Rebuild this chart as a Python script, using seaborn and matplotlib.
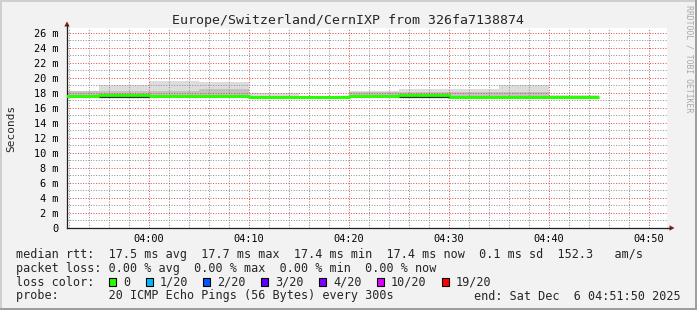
import numpy as np
import pandas as pd
import matplotlib
matplotlib.use("Agg")
import matplotlib.pyplot as plt
import matplotlib.dates as mdates
from matplotlib.ticker import MultipleLocator, FuncFormatter
from matplotlib.patches import Rectangle, Polygon
from matplotlib.lines import Line2D
import seaborn as sns

# ---------------- data ----------------
day = "2025-12-06 "
bin_start = ["03:50", "03:55", "04:00", "04:05", "04:10", "04:15",
             "04:20", "04:25", "04:30", "04:35", "04:40"]
bin_last_end = "04:45"
median_ms = [17.55, 17.65, 17.6, 17.6, 17.42, 17.42, 17.6, 17.63, 17.42, 17.42, 17.42]
smoke_mid_ms = [18.2, 18.2, 18.25, 18.55, 17.6, 17.42, 18.1, 18.1, 18.05, 18.05, 17.6]
smoke_max_ms = [18.2, 19.0, 19.55, 19.45, 18.0, 17.42, 18.2, 18.5, 18.55, 19.0, 17.75]
dense_ms = [np.nan, 17.42, np.nan, np.nan, np.nan, np.nan, np.nan, 17.42, np.nan, np.nan, np.nan]

view_start = "03:51:50"
view_end = "04:51:50"

title = "Europe/Switzerland/CernIXP from 326fa7138874"
legend_rtt = "median rtt:  17.5 ms avg  17.7 ms max  17.4 ms min  17.4 ms now  0.1 ms sd  152.3   am/s"
legend_loss = "packet loss: 0.00 % avg  0.00 % max  0.00 % min  0.00 % now"
loss_labels = ["0", "1/20", "2/20", "3/20", "4/20", "10/20", "19/20"]
loss_colors = ["#26ff00", "#00b8ff", "#0059ff", "#5e00ff", "#7e00ff", "#dd00ff", "#ff0000"]
probe_text = "probe:       20 ICMP Echo Pings (56 Bytes) every 300s"
end_text = "end: Sat Dec  6 04:51:50 2025"

# ---------------- style ----------------
sns.set_style("white")
plt.rcParams["font.family"] = ["DejaVu Sans Mono"]

W, H = 697, 310
fig = plt.figure(figsize=(W / 100, H / 100), dpi=100)
fig.patch.set_facecolor("#f2f2f2")

L, R, T, B = 67, 667, 28, 228
ax = fig.add_axes([L / W, 1 - B / H, (R - L) / W, (B - T) / H])
ax.set_facecolor("white")

def px2fig(x, y):
    return x / W, 1 - y / H

t_start = mdates.date2num(pd.to_datetime([day + s for s in bin_start]))
t_end = np.append(t_start[1:], mdates.date2num(pd.Timestamp(day + bin_last_end)))
width = t_end - t_start

med = np.array(median_ms)
mid = np.array(smoke_mid_ms)
mx = np.array(smoke_max_ms)
dense = np.array(dense_ms)

# smoke
ax.bar(t_start, mx - med, bottom=med, width=width, align="edge",
       color="#dcdcdc", linewidth=0, zorder=1)
ax.bar(t_start, mid - med, bottom=med, width=width, align="edge",
       color="#c2c2c2", linewidth=0, zorder=1.1)

# median line (loss colour)
df = pd.DataFrame({"time": np.append(t_start, t_end[-1]),
                   "median": np.append(med, med[-1])})
sns.lineplot(data=df, x="time", y="median", ax=ax, drawstyle="steps-post",
             color=loss_colors[0], linewidth=2.2, solid_capstyle="butt", zorder=3)

m = ~np.isnan(dense)
ax.hlines(dense[m], t_start[m], t_end[m], color="#333333", linewidth=0.9, zorder=3.5)

# axes
ax.set_xlim(mdates.date2num(pd.Timestamp(day + view_start)),
            mdates.date2num(pd.Timestamp(day + view_end)))
ax.set_ylim(0, 26.6)
ax.set_xlabel("")
ax.set_ylabel("")

ax.xaxis.set_major_locator(mdates.MinuteLocator(byminute=range(0, 60, 10)))
ax.xaxis.set_minor_locator(mdates.MinuteLocator(byminute=range(0, 60, 2)))
ax.xaxis.set_major_formatter(mdates.DateFormatter("%H:%M"))
ax.yaxis.set_major_locator(MultipleLocator(2))
ax.yaxis.set_minor_locator(MultipleLocator(1))
ax.yaxis.set_major_formatter(FuncFormatter(lambda v, p: "0" if v == 0 else f"{int(round(v))} m"))

ax.set_axisbelow("line")
ax.grid(True, which="minor", color=(0.56, 0.56, 0.56, 0.32), linestyle=(0, (1, 1.6)), linewidth=0.72)
ax.grid(True, which="major", color=(0.87, 0.31, 0.31, 0.32), linestyle=(0, (1, 1.6)), linewidth=0.72)

ax.tick_params(which="major", length=3, width=0.72, color="#aaaaaa", labelsize=7.4,
               labelcolor="black")
ax.tick_params(axis="y", which="major", pad=3)
ax.tick_params(axis="x", which="major", pad=1.5)
ax.tick_params(which="minor", length=0)

for s in ["top", "right"]:
    ax.spines[s].set_visible(False)
for s in ["left", "bottom"]:
    ax.spines[s].set_color("#1f1f1f")
    ax.spines[s].set_linewidth(0.9)

# arrows
arrow_col = "#801f1f"
x0, y0 = px2fig(L, T)
x1, y1 = px2fig(L, T - 3)
fig.add_artist(Line2D([x0, x1], [y0, y1], color="#1f1f1f", lw=0.9))
fig.add_artist(Polygon([px2fig(L, 21.5), px2fig(L - 2.7, 26.5), px2fig(L + 2.7, 26.5)],
                       closed=True, color=arrow_col, lw=0))
x0, y0 = px2fig(R, B)
x1, y1 = px2fig(R + 3, B)
fig.add_artist(Line2D([x0, x1], [y0, y1], color="#1f1f1f", lw=0.9))
fig.add_artist(Polygon([px2fig(674.5, B), px2fig(669.5, B - 2.7), px2fig(669.5, B + 2.7)],
                       closed=True, color=arrow_col, lw=0))

# texts
fig.text(348.5 / W, 1 - 24 / H, title, ha="center", va="baseline", fontsize=9.55)
fig.text(11 / W, 1 - 128 / H, "Seconds", rotation=90, ha="center", va="center", fontsize=8)
fig.text(688.5 / W, 1 - 5 / H, "RRDTOOL / TOBI OETIKER", rotation=270, ha="center", va="top",
         fontsize=5.9, color="#a8a8a8")

fs = 8.5
base = [258.2, 272.0, 285.8, 299.5]
fig.text(16 / W, 1 - base[0] / H, legend_rtt, ha="left", va="baseline", fontsize=fs)
fig.text(16 / W, 1 - base[1] / H, legend_loss, ha="left", va="baseline", fontsize=fs)
fig.text(16 / W, 1 - base[2] / H, "loss color:", ha="left", va="baseline", fontsize=fs)
xx = 109.0
for lab, col in zip(loss_labels, loss_colors):
    bx, by = px2fig(xx, base[2])
    fig.add_artist(Rectangle((bx, by), 7 / W, 7.5 / H, facecolor=col, edgecolor="black",
                             linewidth=0.8, transform=fig.transFigure))
    fig.text((xx + 14) / W, 1 - base[2] / H, lab, ha="left", va="baseline", fontsize=fs)
    xx += 15.2 + (len(lab) + 2) * 7.1
fig.text(16 / W, 1 - base[3] / H, probe_text, ha="left", va="baseline", fontsize=fs)
fig.text(681 / W, 1 - base[3] / H, end_text, ha="right", va="baseline", fontsize=fs)

# 3D frame
def hline(y, x0, x1, c):
    fig.add_artist(Line2D([x0 / W, x1 / W], [1 - y / H, 1 - y / H], color=c, lw=1.44))
def vline(x, y0, y1, c):
    fig.add_artist(Line2D([x / W, x / W], [1 - y0 / H, 1 - y1 / H], color=c, lw=1.44))
hline(1, 0, W, "#cfcfcf")
vline(1, 0, H, "#cfcfcf")
hline(H - 1, 0, W, "#9e9e9e")
vline(W - 1, 0, H, "#9e9e9e")

fig.savefig("out.png", dpi=100, facecolor=fig.get_facecolor())
